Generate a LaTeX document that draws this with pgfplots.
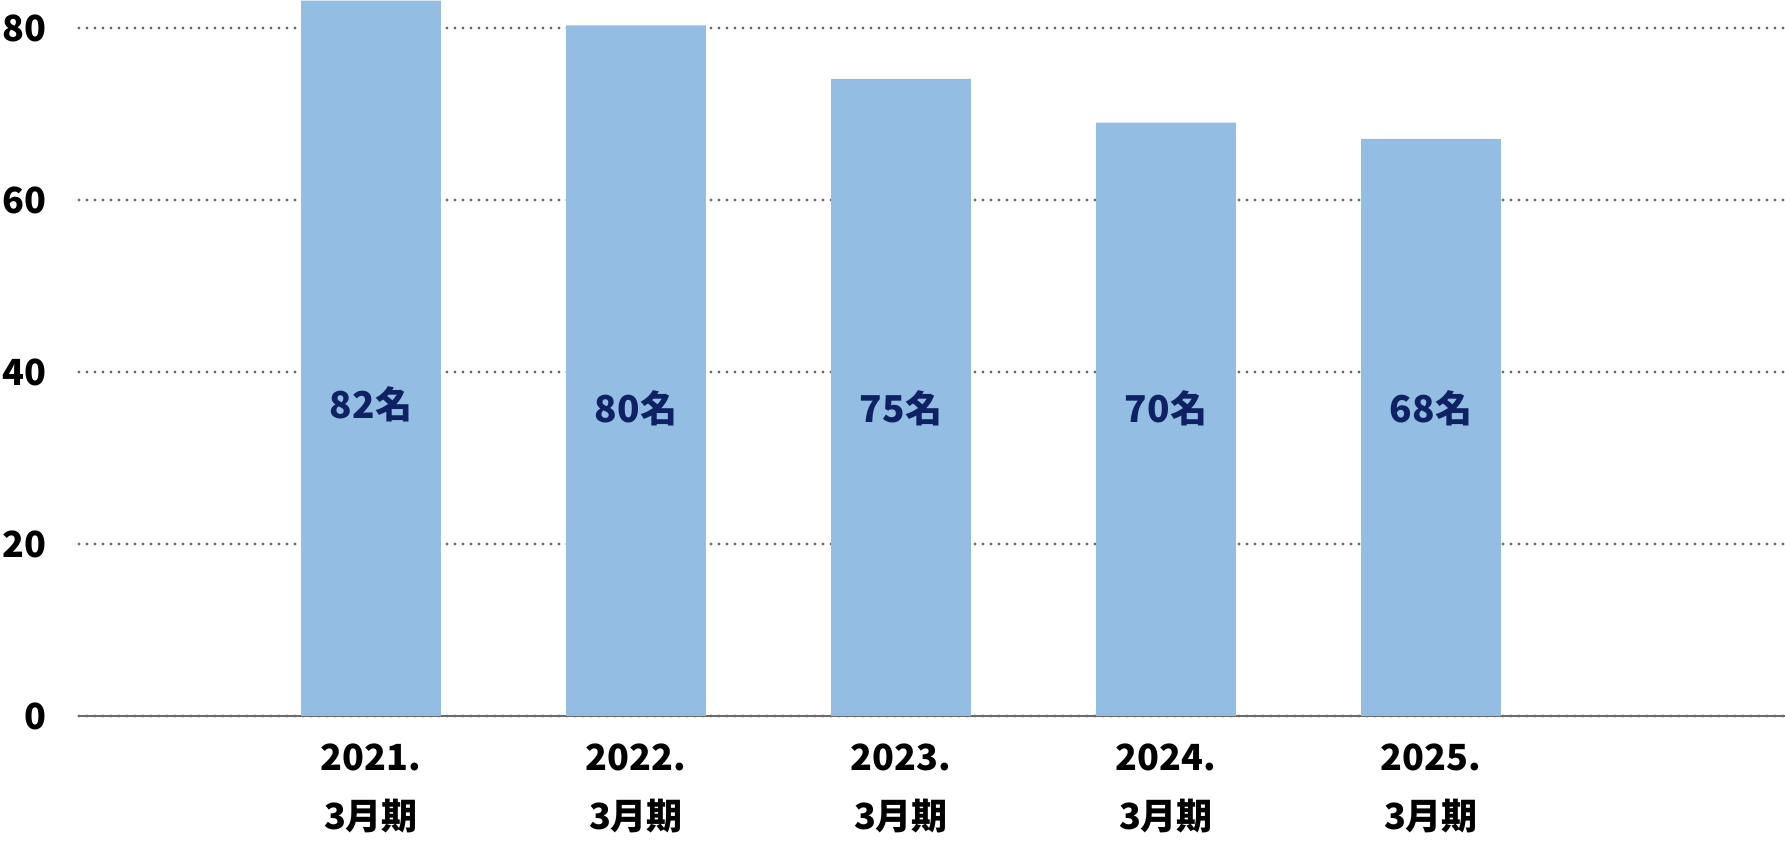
\documentclass[border=0pt]{standalone}
\usepackage{fontspec}
\setmainfont{Noto Sans CJK JP}
\usepackage{pgfplots}
\pgfplotsset{compat=1.18}
\definecolor{barblue}{HTML}{94BDE4}
\definecolor{navy}{HTML}{0E2163}
\definecolor{gridgray}{HTML}{6A6A6A}
\begin{document}
\begin{tikzpicture}
\begin{axis}[
  scale only axis,
  width=853pt, height=358pt,
  xmin=-1.1019, xmax=5.3358,
  ymin=0, ymax=83.26,
  axis x line*=bottom,
  axis y line*=left,
  y axis line style={draw=none},
  x axis line style={draw=gridgray, line width=1pt},
  major tick length=0pt,
  tick style={draw=none},
  ytick={0,20,40,60,80},
  ymajorgrids,
  major grid style={draw=gridgray, line width=1.6pt, line cap=round, dash pattern=on 0pt off 4pt},
  xtick={0,1,2,3,4},
  xticklabels={{2021.\\3月期},{2022.\\3月期},{2023.\\3月期},{2024.\\3月期},{2025.\\3月期}},
  /pgf/number format/assume math mode=true,
  yticklabel style={anchor=east, inner sep=0pt, xshift=-16pt, font=\bfseries\fontsize{18}{22}\selectfont, text=black},
  xticklabel style={anchor=north, inner sep=0pt, yshift=-13.5pt, align=center, font=\bfseries\fontsize{18}{29.5}\selectfont, text=black},
  clip=false,
]
\addplot[ybar, bar width=0.528, fill=barblue, draw=none] coordinates {
  (0,83.2) (1,80.3) (2,74.1) (3,69.0) (4,67.1)
};
\node[text=navy, font=\bfseries\fontsize{18.5}{22}\selectfont] at (axis cs:0,36.3) {82名};
\node[text=navy, font=\bfseries\fontsize{18.5}{22}\selectfont] at (axis cs:1,35.8) {80名};
\node[text=navy, font=\bfseries\fontsize{18.5}{22}\selectfont] at (axis cs:2,35.8) {75名};
\node[text=navy, font=\bfseries\fontsize{18.5}{22}\selectfont] at (axis cs:3,35.8) {70名};
\node[text=navy, font=\bfseries\fontsize{18.5}{22}\selectfont] at (axis cs:4,35.8) {68名};
\end{axis}
\pgfresetboundingbox
\useasboundingbox (-39.5pt,-64.5pt) rectangle (853pt,358pt);
\end{tikzpicture}
\end{document}
